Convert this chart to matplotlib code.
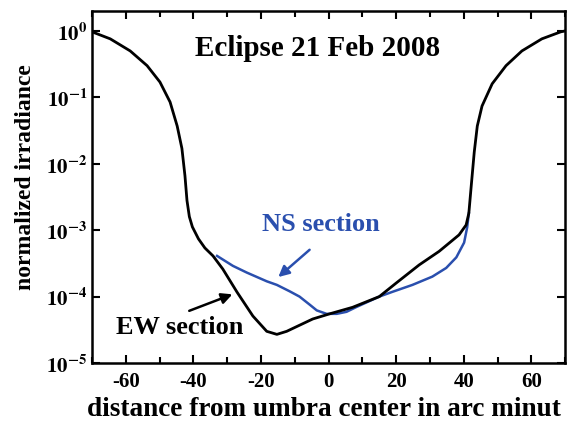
import matplotlib
matplotlib.use("Agg")
import matplotlib.pyplot as plt
import numpy as np

plt.rcParams['font.family'] = 'Liberation Serif'
plt.rcParams['font.weight'] = 'bold'
plt.rcParams['mathtext.fontset'] = 'stix'
plt.rcParams['mathtext.default'] = 'bf'
plt.rcParams['axes.unicode_minus'] = False

# EW section (black) - distance in arc minutes, normalized irradiance
ew_x = [-70, -64.6, -58.7, -53.7, -49.9, -46.9, -44.8, -43.4, -42.5, -41.9,
        -41.2, -40.3, -38.5, -36.6, -34.2, -31.3, -27.1, -22.4, -18.3, -15.3,
        -12.4, -4.7, 0.3, 7.1, 15, 20, 26.8, 32.7, 36.6, 38.6, 40.7, 41.5,
        42.2, 43.1, 44, 45.4, 48.4, 52.5, 57.2, 63.1, 68.7, 70]
ew_y = [0.97, 0.76, 0.5, 0.30, 0.17, 0.085, 0.037, 0.017, 0.0066, 0.0028,
        0.0016, 0.00112, 7.4e-4, 5.4e-4, 4.1e-4, 2.6e-4, 1.17e-4, 5.1e-5,
        3.0e-5, 2.7e-5, 3.0e-5, 4.6e-5, 5.5e-5, 6.9e-5, 1.0e-4, 1.6e-4,
        3.0e-4, 4.8e-4, 7.0e-4, 8.5e-4, 1.2e-3, 1.8e-3, 4.6e-3, 0.015, 0.037,
        0.074, 0.16, 0.30, 0.5, 0.76, 0.97, 1.0]

# NS section (blue)
ns_x = [-33, -28.3, -24.2, -18.3, -15.3, -11.5, -8.6, -5.5, -3.5, -0.6, 2.4,
        5.3, 8.3, 15, 18.9, 24.8, 30.7, 34.8, 37.8, 40.1, 41, 41.5]
ns_y = [4.1e-4, 2.9e-4, 2.3e-4, 1.7e-4, 1.5e-4, 1.2e-4, 1.0e-4, 7.5e-5,
        6.2e-5, 5.5e-5, 5.5e-5, 5.9e-5, 7.0e-5, 1.0e-4, 1.18e-4, 1.5e-4,
        2.0e-4, 2.7e-4, 3.9e-4, 6.5e-4, 1.1e-3, 1.8e-3]

xticks = [-60, -40, -20, 0, 20, 40, 60]
yticks = [1e-5, 1e-4, 1e-3, 1e-2, 1e-1, 1e0]
ytick_labels = [r'$10^{-5}$', r'$10^{-4}$', r'$10^{-3}$', r'$10^{-2}$',
                r'$10^{-1}$', r'$10^{0}$']

blue = '#2a4fae'

fig = plt.figure(figsize=(5.68, 4.27), dpi=100)
ax = fig.add_axes([0.162, 0.1475, 0.833, 0.8245])

ax.plot(ns_x, ns_y, color=blue, lw=1.8)
ax.plot(ew_x, ew_y, color='black', lw=2)

ax.set_yscale('log')
ax.set_xlim(-70, 70)
ax.set_ylim(1e-5, 2.0)

ax.set_xticks(xticks)
ax.set_xticks(np.arange(-70, 71, 10), minor=True)
ax.set_yticks(yticks)
ax.set_yticklabels(ytick_labels)
ax.yaxis.set_minor_locator(matplotlib.ticker.NullLocator())
ax.tick_params(which='both', direction='in', top=True, right=True,
               width=1.5, labelsize=15)
ax.tick_params(which='major', length=6)
ax.tick_params(which='minor', length=4)
ax.tick_params(axis='x', pad=6)
for s in ax.spines.values():
    s.set_linewidth(1.8)

ax.set_ylabel('normalized irradiance', fontsize=17, fontweight='bold')
ax.yaxis.set_label_coords(-0.118, 0.53)
fig.text(0.153, 0.012, 'distance from umbra center in arc minut',
         fontsize=19.6, fontweight='bold', ha='left', va='bottom')

ax.text(0.476, 0.895, 'Eclipse 21 Feb 2008', transform=ax.transAxes,
        ha='center', va='center', fontsize=21, fontweight='bold')
ax.text(-19.8, 1.24e-3, 'NS section', color=blue, ha='left', va='center',
        fontsize=19, fontweight='bold')
ax.text(-44.2, 3.5e-5, 'EW section', color='black', ha='center', va='center',
        fontsize=19, fontweight='bold')

ax.annotate('', xy=(-15.5, 1.85e-4), xytext=(-5, 5.4e-4),
            arrowprops=dict(arrowstyle='-|>', color=blue, lw=1.8,
                            mutation_scale=16))
ax.annotate('', xy=(-27.7, 1.12e-4), xytext=(-42, 5.9e-5),
            arrowprops=dict(arrowstyle='-|>', color='black', lw=1.8,
                            mutation_scale=16))

fig.savefig('out.png', dpi=100)
